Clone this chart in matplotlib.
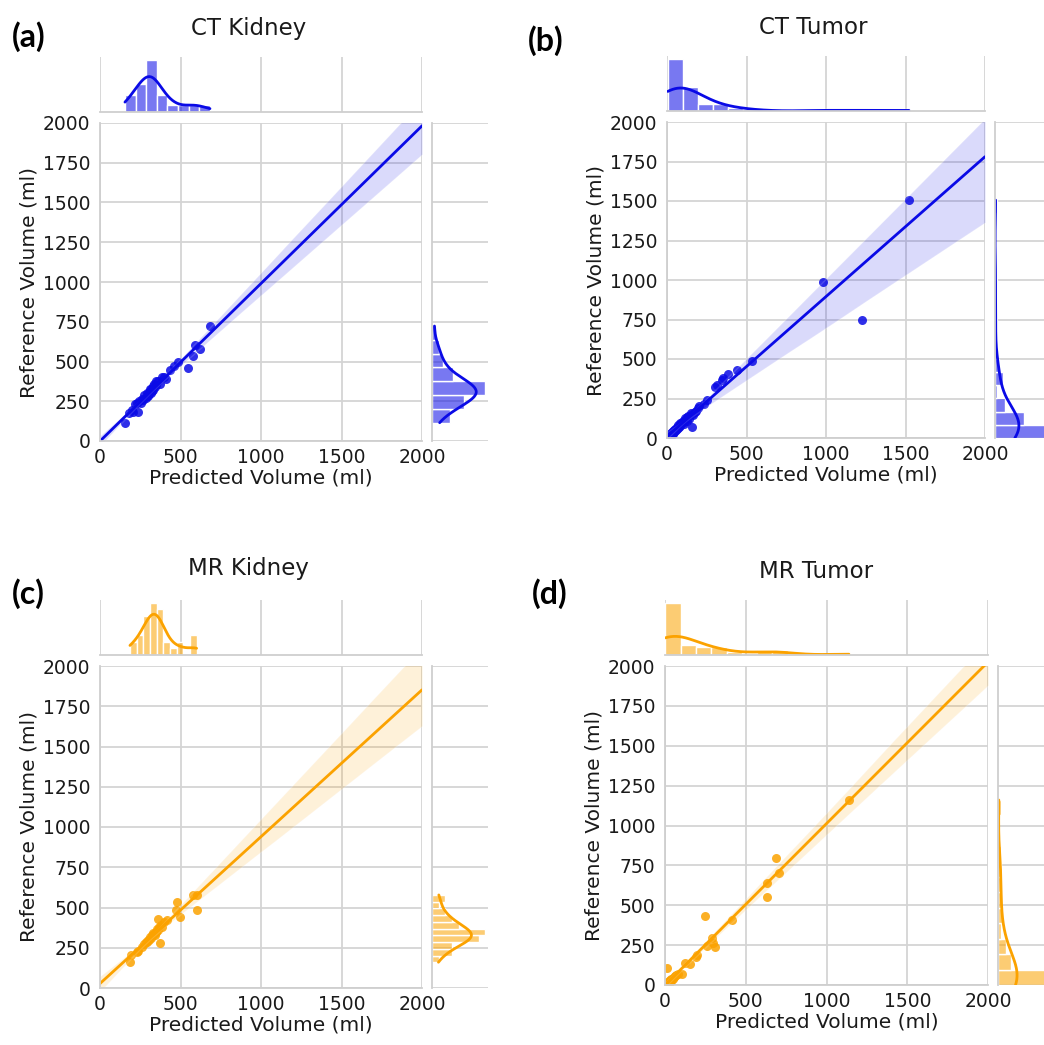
import numpy as np
import matplotlib
matplotlib.use("Agg")
import matplotlib.pyplot as plt
import seaborn as sns

# ---------------- data ----------------
ct_kidney_pred = [155, 182, 197, 205, 215, 228, 238, 245, 252, 260, 268, 275, 283,
                  290, 295, 298, 302, 306, 310, 314, 318, 322, 327, 332, 337, 342, 346, 350,
                  360, 372, 385, 398, 410, 435, 462, 487, 549, 580, 590, 621, 683]
ct_kidney_ref = [115, 174, 195, 185, 230, 237, 184, 250, 240, 265, 255, 290, 270,
                 285, 300, 280, 310, 295, 325, 300, 330, 315, 345, 320, 360, 340, 375, 355,
                 380, 360, 400, 405, 390, 447, 470, 499, 457, 535, 604, 577, 723]

ct_tumor_pred = [1522, 981, 1226, 533, 442, 386, 355, 345, 312, 302, 250, 230, 204, 197,
                 166, 155, 124, 113, 82,
                 98, 105, 110, 118, 128, 135, 140, 150, 160, 175, 182,
                 5, 8, 10, 12, 15, 18, 20, 22, 25, 28, 30, 32, 35, 38, 40, 42, 45, 48,
                 50, 55, 58, 60, 65, 70, 72, 75, 80, 88]
ct_tumor_ref = [1506, 987, 747, 489, 430, 405, 378, 365, 335, 321, 240, 215, 202, 190,
                146, 72, 135, 125, 93,
                110, 88, 100, 120, 105, 140, 118, 160, 150, 165, 170,
                0, 5, 12, 8, 20, 10, 25, 15, 30, 22, 18, 40, 28, 45, 35, 50, 38, 55,
                44, 60, 50, 70, 58, 80, 62, 68, 75, 95]

mr_kidney_pred = [186, 190, 228, 238, 260, 275, 285, 292, 298, 305, 310, 315, 320, 325,
                  330, 335, 340, 345, 350, 355, 358, 362, 368, 373, 378, 385, 395, 414,
                  472, 480, 497, 580, 600, 600]
mr_kidney_ref = [160, 205, 222, 232, 255, 275, 288, 288, 300, 300, 318, 312, 330, 322,
                 340, 335, 330, 350, 345, 365, 358, 427, 380, 278, 392, 380, 410, 425,
                 484, 532, 443, 578, 575, 484]

mr_tumor_pred = [1139, 687, 708, 633, 633, 413, 248, 289, 310, 300, 258, 196, 190, 155,
                 124, 103, 10,
                 2, 5, 8, 12, 15, 18, 20, 22, 25, 28, 30, 35, 38, 42, 48, 55, 60, 70, 80]
mr_tumor_ref = [1160, 794, 700, 637, 554, 408, 435, 293, 240, 265, 245, 188, 176, 132,
                136, 69, 105,
                0, 3, 10, 5, 12, 8, 18, 15, 22, 20, 30, 25, 35, 40, 38, 50, 55, 65, 70]

titles = ["CT Kidney", "CT Tumor", "MR Kidney", "MR Tumor"]
letters = ["(a)", "(b)", "(c)", "(d)"]
x_ticks = [0, 500, 1000, 1500, 2000]
y_ticks = [0, 250, 500, 750, 1000, 1250, 1500, 1750, 2000]

# ---------------- style ----------------
sns.set_style("whitegrid")
plt.rcParams["font.family"] = ["DejaVu Sans"]
plt.rcParams["grid.color"] = "#d4d4d4"
plt.rcParams["grid.linewidth"] = 1.3
plt.rcParams["axes.edgecolor"] = "#cfcfcf"
plt.rcParams["axes.linewidth"] = 1.3

W, H = 1044, 1045
fig = plt.figure(figsize=(W / 100, H / 100), dpi=100)


def px_axes(l, t, r, b, **kw):
    return fig.add_axes([l / W, 1 - b / H, (r - l) / W, (b - t) / H], **kw)


BLUE = "#0a0ae6"
ORANGE = "#fba200"

panels = [
    dict(x=ct_kidney_pred, y=ct_kidney_ref, c=BLUE, main=(100, 123, 422, 441),
         bx=8, by=7, title_xy=(249, 28), letter_xy=(12, 37)),
    dict(x=ct_tumor_pred, y=ct_tumor_ref, c=BLUE, main=(667, 122, 985, 438),
         bx=16, by=18, title_xy=(813, 28), letter_xy=(528, 41)),
    dict(x=mr_kidney_pred, y=mr_kidney_ref, c=ORANGE, main=(100, 666, 422, 988),
         bx=10, by=10, title_xy=(248, 568), letter_xy=(12, 594)),
    dict(x=mr_tumor_pred, y=mr_tumor_ref, c=ORANGE, main=(665, 666, 988, 985),
         bx=12, by=12, title_xy=(816, 572), letter_xy=(532, 594)),
]

for i, p in enumerate(panels):
    l, t, r, b = p["main"]
    ax = px_axes(l, t, r, b)
    axx = px_axes(l, t - 66, r, t - 11, sharex=ax)
    axy = px_axes(r + 10, t, r + 66, b, sharey=ax)

    ax.set_xlim(0, 2000)
    ax.set_ylim(0, 2000)
    x = np.asarray(p["x"], float)
    y = np.asarray(p["y"], float)
    sns.regplot(x=x, y=y, ax=ax, color=p["c"], truncate=False, seed=0,
                scatter_kws=dict(s=42, alpha=0.85, linewidths=0),
                line_kws=dict(lw=2))
    ax.set_xlim(0, 2000)
    ax.set_ylim(0, 2000)
    ax.set_xticks(x_ticks)
    ax.set_yticks(y_ticks)
    ax.tick_params(labelsize=13.5, colors="#1a1a1a", length=0)
    ax.tick_params(axis="y", pad=7)
    ax.tick_params(axis="x", pad=5)
    ax.set_xlabel("Predicted Volume (ml)", fontsize=14.5, color="#1a1a1a", labelpad=1)
    ax.set_ylabel("Reference Volume (ml)", fontsize=14.5, color="#1a1a1a", labelpad=3)
    for s in ["top", "right"]:
        ax.spines[s].set_visible(False)

    sns.histplot(x=x, ax=axx, color=p["c"], kde=True, bins=p["bx"], alpha=0.55,
                 edgecolor="white", linewidth=1, line_kws=dict(lw=2))
    sns.histplot(y=y, ax=axy, color=p["c"], kde=True, bins=p["by"], alpha=0.55,
                 edgecolor="white", linewidth=1, line_kws=dict(lw=2))
    axx.set_xlim(0, 2000)
    axy.set_ylim(0, 2000)
    axx.yaxis.grid(False)
    axy.xaxis.grid(False)
    for a in (axx, axy):
        a.set_xlabel("")
        a.set_ylabel("")
        a.tick_params(length=0, labelbottom=False, labelleft=False)
    for s in ["top", "right", "left"]:
        axx.spines[s].set_visible(False)
    for s in ["top", "right", "bottom"]:
        axy.spines[s].set_visible(False)

    tx, ty = p["title_xy"]
    fig.text(tx / W, 1 - ty / H, titles[i], fontsize=16.5, color="#1a1a1a",
             ha="center", va="center")
    lx, ly = p["letter_xy"]
    fig.text(lx / W, 1 - ly / H, letters[i], fontsize=23, fontweight="bold",
             family=["Lato", "DejaVu Sans"], color="black", ha="left", va="center")

fig.savefig("out.png", dpi=100)
